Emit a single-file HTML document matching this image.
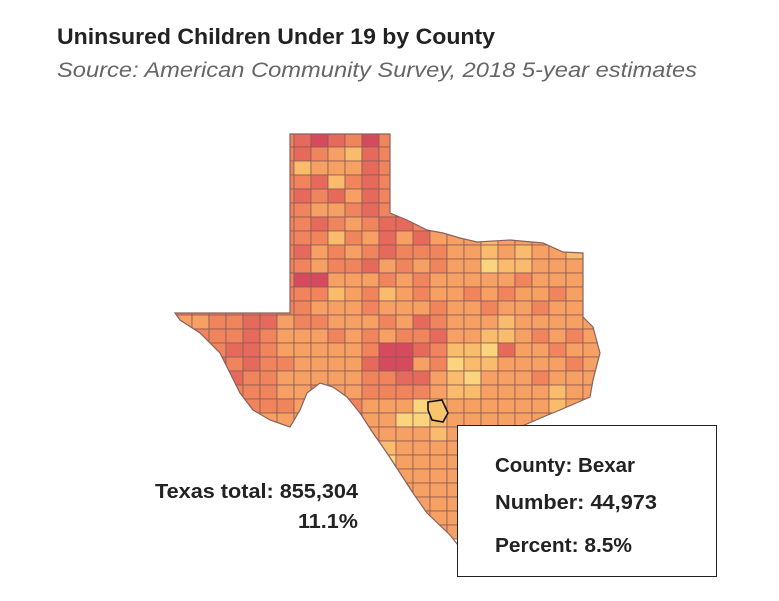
<!DOCTYPE html>
<html><head><meta charset="utf-8"><style>
html,body{margin:0;padding:0;background:#fff;}
svg{display:block;font-family:"Liberation Sans",sans-serif;}
</style></head><body>
<svg width="779" height="601" viewBox="0 0 779 601">
<text x="57" y="44" font-size="22" font-weight="bold" fill="#222" textLength="438" lengthAdjust="spacingAndGlyphs">Uninsured Children Under 19 by County</text>
<text x="57" y="77" font-size="21" font-style="italic" fill="#666" textLength="640" lengthAdjust="spacingAndGlyphs">Source: American Community Survey, 2018 5-year estimates</text>
<defs><clipPath id="tx"><polygon id="txpoly" points=""/></clipPath></defs>
<g id="map" clip-path="url(#tx)"></g>
<polygon id="outline" fill="none" stroke="#8a6060" stroke-width="1.2"/>
<polygon points="428,402 442,400 448,413 443,422 432,420 428,410" fill="#f8c46c" stroke="#111" stroke-width="1.6"/>
<text x="358" y="498" font-size="20" font-weight="bold" fill="#222" text-anchor="end" textLength="203" lengthAdjust="spacingAndGlyphs">Texas total: 855,304</text>
<text x="358" y="528" font-size="20" font-weight="bold" fill="#222" text-anchor="end" textLength="60" lengthAdjust="spacingAndGlyphs">11.1%</text>
<g>
<rect x="457.5" y="425.5" width="259" height="151" fill="#fff" stroke="#222" stroke-width="1"/>
<text x="495" y="472" font-size="20" font-weight="bold" fill="#222" textLength="140" lengthAdjust="spacingAndGlyphs">County: Bexar</text>
<text x="495" y="509" font-size="20" font-weight="bold" fill="#222" textLength="162" lengthAdjust="spacingAndGlyphs">Number: 44,973</text>
<text x="495" y="552" font-size="20" font-weight="bold" fill="#222" textLength="137" lengthAdjust="spacingAndGlyphs">Percent: 8.5%</text>
</g>
</svg>
<script>
const outlinePts=[[290,134],[390,134],[390,213],[407,220],[427,230],[443,233],[460,238],[477,242],[510,240],[543,243],[563,252],[583,253],[583,317],[593,327],[600,353],[593,380],[590,397],[560,410],[543,417],[520,427],[500,440],[480,455],[465,480],[458,510],[458,545],[450,535],[427,513],[413,493],[400,473],[387,453],[373,433],[360,413],[347,397],[333,387],[320,383],[307,393],[300,410],[290,427],[270,420],[253,410],[240,393],[230,373],[220,353],[200,333],[180,320],[175,313],[290,313]];
const levelColors=["#fbd57e","#f9bc6c","#f6a163","#f0845c","#e66a5c","#d64a5e"];
const countyLevels=[
"33333334543533333333333333",
"33333334321433333333333333",
"33333331222433333333333333",
"33333333413433333333333333",
"33333334342433333333333333",
"33333333223433333333333333",
"33333333432344323222222222",
"33333333313242422212222222",
"33333334232343332212122122",
"33333333233423232201122221",
"33333335522232322222322222",
"33333333312312322323223222",
"33333333222322232232232222",
"22334423322232432221222222",
"23334322232323342211232322",
"23344322222355431104223222",
"34434332222455230112222322",
"34443322222334421022232222",
"34433322322333321122221222",
"33433332233222012222221222",
"33322222333220012222222222",
"33322222232222212222222222",
"33322222221212222222222222",
"33322222222102222222222222",
"33322222221112222222222222",
"33322222222222222222222222",
"33322222222202222222222222",
"33322222223202222222222222",
"33322222233332222222222222"];
const ptsStr=outlinePts.map(p=>p.join(',')).join(' ');
document.getElementById('txpoly').setAttribute('points',ptsStr);
document.getElementById('outline').setAttribute('points',ptsStr);
const NS="http://www.w3.org/2000/svg",g=document.getElementById('map');
const x0=175,y0=133,cw=17,ch=14;
countyLevels.forEach((row,r)=>{[...row].forEach((v,c)=>{
const rc=document.createElementNS(NS,'rect');
rc.setAttribute('x',x0+c*cw);rc.setAttribute('y',y0+r*ch);
rc.setAttribute('width',cw);rc.setAttribute('height',ch);
rc.setAttribute('fill',levelColors[+v]);
rc.setAttribute('stroke','#8a5a55');rc.setAttribute('stroke-width','0.8');


g.appendChild(rc);});});
</script>
</body></html>
